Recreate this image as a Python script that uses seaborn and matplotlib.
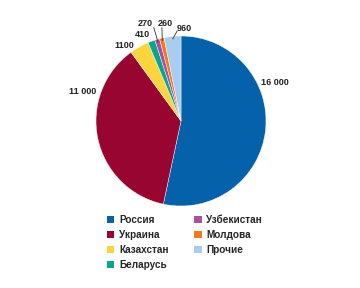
import numpy as np
import matplotlib
matplotlib.use("Agg")
import matplotlib.pyplot as plt
import seaborn as sns
from matplotlib.patches import Patch

sns.set_theme(style="white")
plt.rcParams['font.family'] = ['Liberation Sans', 'DejaVu Sans']

countries = ["Россия", "Украина", "Казахстан", "Беларусь", "Узбекистан", "Молдова", "Прочие"]
values = [16000, 11000, 1100, 410, 270, 260, 960]
value_labels = ["16 000", "11 000", "1100", "410", "270", "260", "960"]
colors = ["#0561AA", "#980530", "#FDD43E", "#0AA58C", "#A9509E", "#F47A20", "#A9CDEE"]

# label layout (data units, pie radius = 1)
label_pos = [(0.94, 0.45), (-1.0, 0.35), (-0.67, 0.89), (-0.45, 1.02),
             (-0.42, 1.15), (-0.19, 1.15), (0.04, 1.09)]
label_ha = ["left", "right", "center", "center", "center", "center", "center"]
leader_end = [None, None, None, None, (-0.32, 1.10), (-0.225, 1.10), (-0.045, 1.06)]

W, H = 360, 288
fig = plt.figure(figsize=(W / 100, H / 100), dpi=100)
cx, cy, r = 181, 121, 85
ax = fig.add_axes([(cx - r) / W, (H - cy - r) / H, 2 * r / W, 2 * r / H])
wedges, _ = ax.pie(values, colors=colors, startangle=90, counterclock=False,
                   radius=1, wedgeprops=dict(linewidth=0.3, edgecolor="white"))
ax.set_xlim(-1, 1)
ax.set_ylim(-1, 1)
ax.set_aspect("equal")
ax.axis("off")

for w, lab, pos, ha, le in zip(wedges, value_labels, label_pos, label_ha, leader_end):
    ax.text(pos[0], pos[1], lab, ha=ha, va="center", fontsize=6.5,
            fontweight="bold", color="#222222", clip_on=False)
    if le is not None:
        mid = np.deg2rad((w.theta1 + w.theta2) / 2)
        ax.plot([np.cos(mid) * 0.97, le[0]], [np.sin(mid) * 0.97, le[1]],
                color="#333333", lw=0.6, clip_on=False)

handles = [Patch(facecolor=c, edgecolor="none") for c in colors]
fig.legend(handles, countries, loc="upper left", bbox_to_anchor=(98 / W, 1 - 206 / H),
           ncol=2, frameon=False, handlelength=0.75, handleheight=0.75,
           handletextpad=0.5, columnspacing=2.5, labelspacing=0.5,
           prop=dict(family="Liberation Sans", weight="bold", size=7.2))

fig.savefig("out.png", dpi=100)
